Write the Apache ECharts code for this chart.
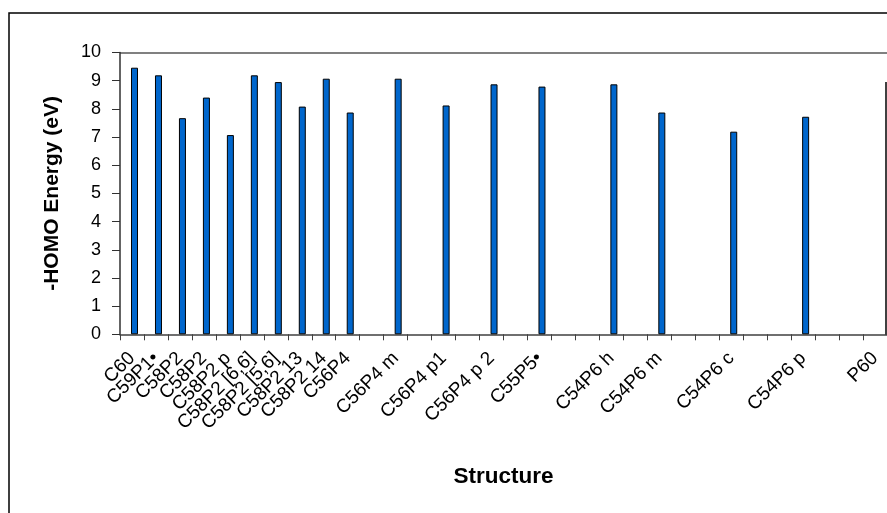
<!DOCTYPE html>
<html>
<head>
<meta charset="utf-8">
<script src="https://cdn.jsdelivr.net/npm/echarts@6/dist/echarts.min.js"></script>
<style>
html,body{margin:0;padding:0;background:#fff;}
#chart{width:887px;height:513px;}
</style>
</head>
<body>
<div id="chart"></div>
<script>
// Categories (blank strings are empty category slots on the axis)
const categories = [
  'C60', 'C59P1•', 'C58P2', 'C58P2', 'C58P2 p', 'C58P2 [6,6]', 'C58P2 [5,6]', 'C58P2 13', 'C58P2 14', 'C56P4',
  '', 'C56P4 m', '', 'C56P4 p1', '', 'C56P4 p 2', '', 'C55P5•', '', '',
  'C54P6 h', '', 'C54P6 m', '', '', 'C54P6 c', '', '', 'C54P6 p', '',
  '', 'P60'
];
// -HOMO energy (eV); null = no bar
const homoEnergy = [
  9.46, 9.19, 7.67, 8.40, 7.07, 9.19, 8.95, 8.08, 9.07, 7.87,
  null, 9.07, null, 8.12, null, 8.87, null, 8.79, null, null,
  8.87, null, 7.87, null, null, 7.19, null, null, 7.72, null,
  null, null
];
// empty companion series (shifts the visible bar slightly right, as in the source chart)
const emptySeries = categories.map(() => null);
const yTicks = [0, 10, 1]; // min, max, interval

const FONT = '"Liberation Sans", Arial, sans-serif';
const chart = echarts.init(document.getElementById('chart'), null, {renderer: 'canvas'});
const splitColors = [];
for (let i = 0; i <= 10; i++) splitColors.push(i === 10 ? '#808080' : 'rgba(0,0,0,0)');

chart.setOption({
  animation: false,
  backgroundColor: '#fff',
  grid: {left: 120, top: 52.5, width: 779.5, bottom: 178.7, containLabel: false},
  xAxis: {
    type: 'category',
    data: categories,
    boundaryGap: true,
    name: 'Structure',
    nameLocation: 'middle',
    nameGap: 131,
    nameTextStyle: {fontFamily: FONT, fontSize: 22.5, fontWeight: 'bold', color: '#000'},
    axisLine: {lineStyle: {color: '#404040', width: 1.5}},
    axisTick: {show: true, interval: 0, length: 6, lineStyle: {color: '#404040', width: 1}},
    axisLabel: {
      interval: 0, rotate: 45, margin: 21,
      fontFamily: FONT, fontSize: 19, color: '#000'
    },
    splitLine: {show: false}
  },
  yAxis: {
    type: 'value',
    min: yTicks[0], max: yTicks[1], interval: yTicks[2],
    name: '-HOMO Energy (eV)',
    nameLocation: 'middle',
    nameRotate: 90,
    nameGap: 57,
    nameTextStyle: {fontFamily: FONT, fontSize: 21, fontWeight: 'bold', color: '#000'},
    axisLine: {show: true, lineStyle: {color: '#303030', width: 1.5}},
    axisTick: {show: true, inside: false, length: 8, lineStyle: {color: '#303030', width: 1}},
    axisLabel: {margin: 19, fontFamily: FONT, fontSize: 18, color: '#000'},
    splitLine: {show: true, lineStyle: {color: splitColors, width: 2}}
  },
  series: [
    {type: 'bar', data: emptySeries, barWidth: 7, barGap: '-28%', silent: true},
    {
      type: 'bar',
      data: homoEnergy,
      barWidth: 7,
      barGap: '-28%',
      itemStyle: {color: '#0066CC', borderColor: '#000', borderWidth: 1}
    }
  ],
  graphic: [
    {type: 'rect', shape: {x: 9, y: 13, width: 900, height: 520}, style: {fill: null, stroke: '#000', lineWidth: 1.5}, silent: true},
    {type: 'line', shape: {x1: 886, y1: 82, x2: 886, y2: 335}, style: {stroke: '#000', lineWidth: 1.5}, silent: true}
  ]
});
</script>
</body>
</html>
